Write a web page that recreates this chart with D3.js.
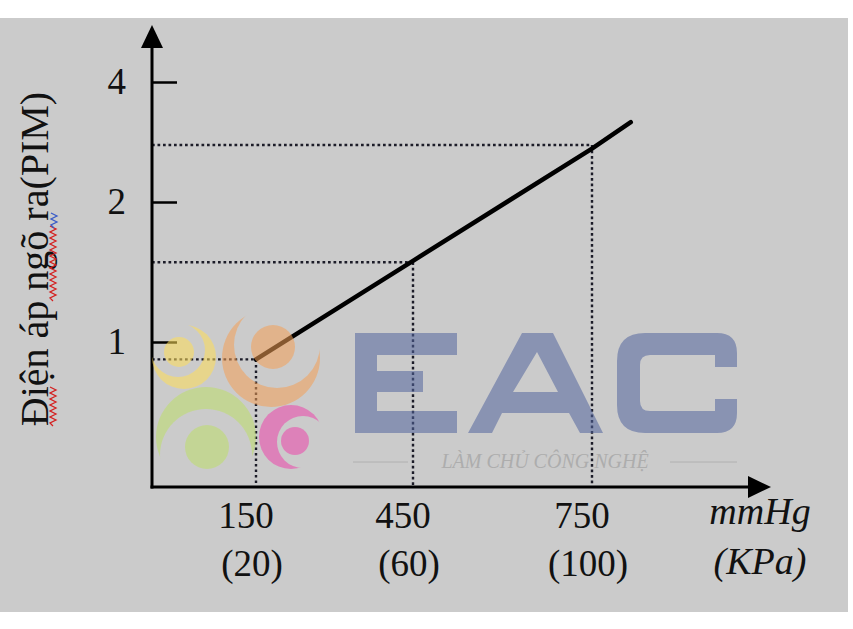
<!DOCTYPE html>
<html>
<head>
<meta charset="utf-8">
<script src="https://cdn.jsdelivr.net/npm/d3@7"></script>
<style>
  html, body { margin: 0; padding: 0; background: #fff; }
  svg { display: block; }
</style>
</head>
<body>
<div id="chart"></div>
<script>
// MAP sensor output: voltage vs manifold pressure

const pressureMmHg = [150, 450, 750, 815];
const outputVolts = [0.88, 1.58, 2.89, 3.33];
const guidePressure = [150, 450, 750];
const guideVolts = [0.88, 1.57, 2.95];
const yTickValues = [1, 2, 4];
const xTickValues = [150, 450, 750];
const kpaLabels = ['(20)', '(60)', '(100)'];

const width = 853, height = 629;
const serif = '"Liberation Serif", "Times New Roman", serif';

const svg = d3.select('#chart').append('svg')
    .attr('width', width)
    .attr('height', height);

// grey panel
svg.append('rect')
    .attr('x', 0).attr('y', 18)
    .attr('width', 848).attr('height', 594)
    .attr('fill', '#cbcbcb');

// the drawing's axes are not to scale, so piecewise scales
const x = d3.scaleLinear().domain([0, 150, 450, 750]).range([152, 256, 413, 592]);
const y = d3.scaleLinear().domain([0, 1, 2, 4]).range([487, 342, 202, 82]);

const x0 = x(0), y0 = y(0);

// dotted guides
const guides = svg.append('g')
    .attr('fill', 'none')
    .attr('stroke', '#1c1c28')
    .attr('stroke-width', 2.4)
    .attr('stroke-dasharray', '2.7,2.8');

guidePressure.forEach((p, i) => {
    guides.append('line')
        .attr('x1', x0).attr('x2', x(p))
        .attr('y1', y(guideVolts[i])).attr('y2', y(guideVolts[i]));
    guides.append('line')
        .attr('x1', x(p)).attr('x2', x(p))
        .attr('y1', y(guideVolts[i])).attr('y2', y0);
});

// sensor line
const line = d3.line()
    .x((d, i) => x(pressureMmHg[i]))
    .y(d => y(d));

svg.append('path')
    .datum(outputVolts)
    .attr('d', line)
    .attr('fill', 'none')
    .attr('stroke', '#000')
    .attr('stroke-width', 4.5)
    .attr('stroke-linecap', 'round');

// y axis ticks and labels
const yAxis = d3.axisLeft(y)
    .tickValues(yTickValues)
    .tickSize(-25)
    .tickPadding(26)
    .tickFormat(d3.format('d'));

const yg = svg.append('g')
    .attr('transform', `translate(${x0},0)`)
    .call(yAxis);
yg.select('.domain').remove();
yg.selectAll('.tick line').attr('stroke', '#000').attr('stroke-width', 2.5);
yg.selectAll('.tick text')
    .attr('font-family', serif)
    .attr('font-size', 37)
    .attr('fill', '#111')
    .attr('dy', '0.3em');

// x labels (mmHg with kPa underneath)
const xl = svg.append('g')
    .attr('font-family', serif)
    .attr('font-size', 37)
    .attr('fill', '#111')
    .attr('text-anchor', 'middle');

xTickValues.forEach((v, i) => {
    xl.append('text').attr('x', x(v) - 10).attr('y', 528).text(v);
    xl.append('text').attr('x', x(v) - 4).attr('y', 576).text(kpaLabels[i]);
});

// axis lines with arrowheads
const axes = svg.append('g').attr('stroke', '#000').attr('stroke-width', 3);
axes.append('line').attr('x1', x0).attr('x2', x0).attr('y1', y0 + 1.5).attr('y2', 45);
axes.append('line').attr('x1', x0 - 1.5).attr('x2', 750).attr('y1', y0).attr('y2', y0);

svg.append('path')
    .attr('d', `M${x0},25 L${x0 + 11},48 L${x0 - 11},48 Z`)
    .attr('fill', '#000');
svg.append('path')
    .attr('d', `M771,${y0} L748,${y0 - 11} L748,${y0 + 11} Z`)
    .attr('fill', '#000');

// unit labels
svg.append('text')
    .attr('x', 760).attr('y', 524)
    .attr('text-anchor', 'middle')
    .attr('font-family', serif).attr('font-style', 'italic')
    .attr('font-size', 38).attr('fill', '#111')
    .text('mmHg');
svg.append('text')
    .attr('x', 760).attr('y', 574)
    .attr('text-anchor', 'middle')
    .attr('font-family', serif).attr('font-style', 'italic')
    .attr('font-size', 38).attr('fill', '#111')
    .text('(KPa)');

// y axis title
svg.append('text')
    .attr('transform', 'translate(48,259) rotate(-90)')
    .attr('text-anchor', 'middle')
    .attr('font-family', serif)
    .attr('font-size', 40)
    .attr('fill', '#111')
    .text('Điện áp ngõ ra(PIM)');

// spell-check squiggles under the title
function squiggle(xc, ya, yb) {
    const p = d3.path();
    p.moveTo(xc, yb);
    let k = 0;
    for (let yy = yb; yy > ya; yy -= 3) {
        p.lineTo(xc + (k % 2 ? 3 : -3), yy - 3);
        k++;
    }
    return p.toString();
}
[[388, 426], [228, 301]].forEach(r => {
    svg.append('path').attr('d', squiggle(53, r[0], r[1]))
        .attr('fill', 'none').attr('stroke', '#d42020').attr('stroke-width', 1.3);
});
svg.append('path').attr('d', squiggle(54, 214, 228))
    .attr('fill', 'none').attr('stroke', '#3a5cc8').attr('stroke-width', 1.3);

// watermark (EAC logo) on top, semi-transparent
const wm = svg.append('g').attr('opacity', 0.55);
const defs = svg.append('defs');

const crescents = [
    { id: 'cy', cx: 184, cy: 357, R: 32, ix: 178, iy: 350, r: 27, color: '#ffde58', dot: [179, 352, 15] },
    { id: 'co', cx: 271, cy: 358, R: 49, ix: 277, iy: 345, r: 43, color: '#f4a057', dot: [273, 347, 22] },
    { id: 'cg', cx: 206, cy: 437, R: 50, ix: 206, iy: 455, r: 46, color: '#bdde6a', dot: [207, 447, 22] },
    { id: 'cp', cx: 291, cy: 437, R: 32, ix: 303, iy: 442, r: 26, color: '#ed45ab', dot: [295, 441, 14] }
];

crescents.forEach(c => {
    const m = defs.append('mask').attr('id', c.id)
        .attr('maskUnits', 'userSpaceOnUse')
        .attr('x', 0).attr('y', 0).attr('width', width).attr('height', height);
    m.append('rect').attr('width', width).attr('height', height).attr('fill', '#fff');
    m.append('circle').attr('cx', c.ix).attr('cy', c.iy).attr('r', c.r).attr('fill', '#000');
    wm.append('circle')
        .attr('cx', c.cx).attr('cy', c.cy).attr('r', c.R)
        .attr('fill', c.color)
        .attr('mask', `url(#${c.id})`);
    wm.append('circle')
        .attr('cx', c.dot[0]).attr('cy', c.dot[1]).attr('r', c.dot[2])
        .attr('fill', c.color);
});

// block letters of the logo
const letterPaths = [
    'M355,333 H457 V355 H377 V371 H423 V392 H377 V411 H457 V433 H355 Z',
    'M468,433 L522,333 L553,333 L603,433 L580,433 L569,413 L502,413 L492,433 Z M513,392 L558,392 L537,352 Z',
    'M715,367 L737,367 L737,353 Q737,333 717,333 L645,333 Q617,333 617,361 L617,405 Q617,433 645,433 L717,433 Q737,433 737,413 L737,399 L715,399 L715,411 L650,411 Q640,411 640,401 L640,365 Q640,355 650,355 L715,355 Z'
];
wm.selectAll('path.letter')
    .data(letterPaths)
    .enter()
    .append('path')
    .attr('class', 'letter')
    .attr('d', d => d)
    .attr('fill-rule', 'evenodd')
    .attr('fill', '#54669f');

svg.append('text')
    .attr('x', 545).attr('y', 468)
    .attr('text-anchor', 'middle')
    .attr('font-family', serif).attr('font-style', 'italic')
    .attr('font-size', 20).attr('fill', '#adadad')
    .text('LÀM CHỦ CÔNG NGHỆ');
svg.append('line').attr('x1', 353).attr('x2', 408).attr('y1', 462).attr('y2', 462)
    .attr('stroke', '#b0b0b0').attr('stroke-width', 1);
svg.append('line').attr('x1', 670).attr('x2', 737).attr('y1', 462).attr('y2', 462)
    .attr('stroke', '#b0b0b0').attr('stroke-width', 1);
</script>
</body>
</html>
